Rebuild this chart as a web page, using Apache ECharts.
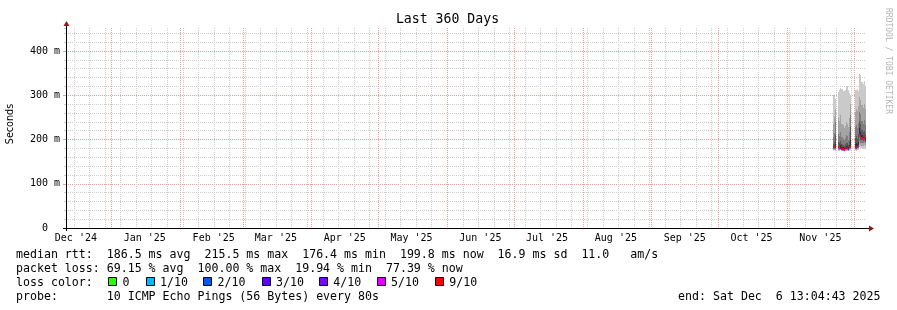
<!DOCTYPE html>
<html><head><meta charset="utf-8">
<script src="https://cdn.jsdelivr.net/npm/echarts@6/dist/echarts.min.js"></script>
<style>html,body{margin:0;padding:0;background:#fff}#c{width:897px;height:310px}</style>
</head><body><div id="c"></div>
<script>
// ---------------- data ----------------
const slotTimes = ['2025-11-21T12:00:00Z','2025-11-22T00:00:00Z','2025-11-22T12:00:00Z','2025-11-23T00:00:00Z','2025-11-23T12:00:00Z',
  '2025-11-24T00:00:00Z','2025-11-24T12:00:00Z','2025-11-25T00:00:00Z','2025-11-25T12:00:00Z','2025-11-26T00:00:00Z',
  '2025-11-26T12:00:00Z','2025-11-27T00:00:00Z','2025-11-27T12:00:00Z','2025-11-28T00:00:00Z','2025-11-28T12:00:00Z',
  '2025-11-29T00:00:00Z','2025-11-29T12:00:00Z','2025-11-30T00:00:00Z','2025-11-30T12:00:00Z','2025-12-01T00:00:00Z',
  '2025-12-01T12:00:00Z','2025-12-02T00:00:00Z','2025-12-02T12:00:00Z','2025-12-03T00:00:00Z','2025-12-03T12:00:00Z',
  '2025-12-04T00:00:00Z','2025-12-04T12:00:00Z','2025-12-05T00:00:00Z','2025-12-05T12:00:00Z','2025-12-06T00:00:00Z'];
// sorted ping slots (ms), 1 = lowest, 10 = highest
const ping1  = [175,176,175,null,null,175,175,176,174,173,172,174,175,175,174,175,176,null,null,null,176,175,177,177,182,180,180,178,181,179];
const ping2  = [177,177,177,null,null,177,176,177,175,174,173,175,176,176,175,177,178,null,null,null,177,176,178,179,190,186,186,185,188,186];
const ping3  = [178,179,179,null,null,178,177,178,176,175,174,176,177,177,176,178,180,null,null,null,179,178,180,181,197,193,192,191,194,191];
const ping4  = [180,181,181,null,null,180,178,179,177,176,175,178,179,178,176,180,182,null,null,null,180,179,182,183,205,200,198,196,199,195];
const ping5  = [181,182,182,null,null,181,179,180,178,177,176,179,180,179,177,181,183,null,null,null,182,181,183,184,212,205,201,200,203,199];
const ping6  = [184,186,190,null,null,186,184,187,184,183,181,184,186,185,182,187,200,null,null,null,190,192,189,195,226,218,210,206,208,203];
const ping7  = [190,195,210,null,null,194,191,197,190,188,186,189,193,191,187,197,228,null,null,null,204,207,202,212,242,236,222,216,220,212];
const ping8  = [205,215,240,null,null,212,208,216,205,202,198,203,210,207,200,216,255,null,null,null,228,232,226,238,262,258,242,236,244,232];
const ping9  = [235,250,270,null,null,248,242,255,236,232,225,230,240,236,228,248,280,null,null,null,262,270,265,275,295,290,278,272,280,270];
const ping10 = [301,298,292,null,null,308,312,316,314,309,310,313,318,321,311,305,300,null,null,null,313,312,315,310,347,345,330,325,332,320];
const medianRtt = [182,184,183,null,null,182,180,181,179,178,176.4,180,181,180,178,182,184,null,null,null,183,182,184,185,215.5,208,204,201,205,199.8];
const lossCount = [2,9,9,null,null,9,5,3,9,9,5,9,4,9,2,9,9,null,null,null,9,2,9,5,3,9,9,5,9,8];

const yTickValues = [0,100,200,300,400];
const monthLabels = ["Dec '24","Jan '25","Feb '25","Mar '25","Apr '25","May '25","Jun '25","Jul '25","Aug '25","Sep '25","Oct '25","Nov '25"];
const monthLabelDates = ['2024-12-16','2025-01-16','2025-02-16','2025-03-16','2025-04-16','2025-05-16','2025-06-16','2025-07-16','2025-08-16','2025-09-16','2025-10-16','2025-11-16'];
const monthStartDates = ['2025-01-01','2025-02-01','2025-03-01','2025-04-01','2025-05-01','2025-06-01','2025-07-01','2025-08-01','2025-09-01','2025-10-01','2025-11-01','2025-12-01'];
const lossLegendLabels = ['0','1/10','2/10','3/10','4/10','5/10','9/10'];
const lossLegendColors = ['#26ff00','#00b8ff','#0059ff','#5e00ff','#7e00ff','#dd00ff','#ff0000'];
const statLines = [
  'median rtt:  186.5 ms avg  215.5 ms max  176.4 ms min  199.8 ms now  16.9 ms sd  11.0   am/s',
  'packet loss: 69.15 % avg  100.00 % max  19.94 % min  77.39 % now',
  'loss color:',
  'probe:       10 ICMP Echo Pings (56 Bytes) every 80s'
];
const endText = 'end: Sat Dec  6 13:04:43 2025';
const titleText = 'Last 360 Days';

// ---------------- build ----------------
const DAY = 86400000;
const tMin = Date.UTC(2024,11,11,13,4,43);
const tMax = Date.UTC(2025,11,6,13,4,43);
const slotMs = 12*3600000;
const yMax = 452;
const weekTimes = [];
for (let t = Date.UTC(2024,11,15); t < tMax; t += 7*DAY) weekTimes.push(t);
const monthTimes = monthStartDates.map(d => Date.parse(d + 'T00:00:00Z'));
const labelTimes = monthLabelDates.map(d => Date.parse(d + 'T00:00:00Z'));

const pings = [ping1,ping2,ping3,ping4,ping5,ping6,ping7,ping8,ping9,ping10];
const smokeColors = ['#cacaca','#a4a4a4','#7e7e7e','#585858','#323232'];
const smokeRows = [];
slotTimes.forEach((s, i) => {
  if (ping1[i] == null) return;
  const t = Date.parse(s);
  for (let b = 0; b < 5; b++) smokeRows.push([t, pings[b][i], pings[9-b][i], b]);
});
function lossIdx(l){ return l <= 0 ? 0 : (l <= 5 ? Math.ceil(l) : 6); }
const medRows = [];
slotTimes.forEach((s, i) => {
  if (medianRtt[i] == null) return;
  medRows.push([Date.parse(s), medianRtt[i], lossIdx(lossCount[i])]);
});

const MONO = '"DejaVu Sans Mono", monospace';
const FG = '#000';
const gridMinor = '#cdcdcd';
const gridMajor = '#f09a9a';

function vLineSeries(times, color, z) {
  return {
    type: 'custom', z: z, silent: true, clip: false,
    data: times.map(t => [t, 0]), encode: {x: 0, y: 1},
    renderItem: (params, api) => {
      const p = api.coord([api.value(0), 0]);
      const x = Math.round(p[0]) + 0.5;
      const cs = params.coordSys;
      return {type: 'line', shape: {x1: x, y1: cs.y, x2: x, y2: cs.y + cs.height + 2},
        style: {stroke: color, lineWidth: 1, lineDash: [1, 1]}};
    }
  };
}

const graphics = [];
graphics.push({type:'text', x:447.5, y:20, style:{text:titleText, font:'13.2px '+MONO, fill:FG, align:'center', verticalAlign:'middle'}});
graphics.push({type:'text', x:10.5, y:124, rotation:Math.PI/2, style:{text:'Seconds', font:'9.6px "DejaVu Sans", sans-serif', fill:FG, align:'center', verticalAlign:'middle'}});
graphics.push({type:'text', x:888, y:61, rotation:-Math.PI/2, style:{text:'RRDTOOL / TOBI OETIKER', font:'8px '+MONO, fill:'#b4b4b4', align:'center', verticalAlign:'middle'}});
const lineY = [254.8, 268.8, 282.6, 296.6];
statLines.forEach((s, i) => graphics.push({type:'text', x:16, y:lineY[i], style:{text:s, font:'11.6px '+MONO, fill:FG, align:'left', verticalAlign:'middle'}}));
graphics.push({type:'text', x:880.5, y:lineY[3], style:{text:endText, font:'11.6px '+MONO, fill:FG, align:'right', verticalAlign:'middle'}});
const boxX = [108.3, 145.7, 203.3, 261.7, 319, 376.7, 435];
lossLegendLabels.forEach((lab, i) => {
  graphics.push({type:'rect', shape:{x:Math.round(boxX[i])+0.5, y:277.5, width:8, height:8}, style:{fill:lossLegendColors[i], stroke:'#000', lineWidth:1}});
  graphics.push({type:'text', x:boxX[i]+14.3, y:lineY[2], style:{text:lab, font:'11.6px '+MONO, fill:FG, align:'left', verticalAlign:'middle'}});
});
graphics.push({type:'line', shape:{x1:63, y1:228.5, x2:869, y2:228.5}, style:{stroke:'#000', lineWidth:1}, z:100});
graphics.push({type:'line', shape:{x1:66.5, y1:231, x2:66.5, y2:25}, style:{stroke:'#000', lineWidth:1}, z:100});
graphics.push({type:'polygon', shape:{points:[[63.5,26],[69.5,26],[66.5,21]]}, style:{fill:'#8b1a1a'}, z:101});
graphics.push({type:'polygon', shape:{points:[[869,225.5],[869,231.5],[874,228.5]]}, style:{fill:'#8b1a1a'}, z:101});

const option = {
  animation: false,
  backgroundColor: '#fff',
  grid: {left: 66, top: 28, width: 800, height: 200, containLabel: false, outerBoundsMode: 'none'},
  xAxis: [{
    type: 'value', min: tMin, max: tMax, position: 'bottom',
    axisLine: {show: false},
    axisTick: {show: false},
    axisLabel: {show: true, customValues: labelTimes, margin: 5, fontFamily: MONO, fontSize: 10, color: FG,
      formatter: (v) => { let best = 0; labelTimes.forEach((t, i) => { if (Math.abs(t - v) < Math.abs(labelTimes[best] - v)) best = i; }); return monthLabels[best]; }},
    splitLine: {show: false}
  }],
  yAxis: [{
    type: 'value', min: 0, max: yMax, interval: 100, position: 'left', z: 1,
    axisLine: {show: false},
    axisTick: {show: true, length: 3, lineStyle: {color: gridMajor}},
    axisLabel: {show: true, showMaxLabel: false, margin: 6, fontFamily: MONO, fontSize: 10, color: FG,
      formatter: (v) => yTickValues.indexOf(v) < 0 ? '' : (v === 0 ? '0  ' : v + ' m')},
    splitLine: {show: true, showMaxLine: false, showMinLine: false, lineStyle: {color: gridMajor, width: 1, type: [1, 1]}}
  }, {
    type: 'value', min: 0, max: yMax, interval: 20, position: 'left', z: 0,
    axisLine: {show: false}, axisLabel: {show: false},
    axisTick: {show: true, length: 2, lineStyle: {color: gridMinor}},
    splitLine: {show: true, showMaxLine: false, showMinLine: false, lineStyle: {color: gridMinor, width: 1, type: [1, 1]}}
  }],
  series: [
    vLineSeries(weekTimes, gridMinor, 1),
    vLineSeries(monthTimes, gridMajor, 1),
    {
      type: 'custom', z: 3, silent: true,
      data: smokeRows, encode: {x: 0, y: [1, 2]},
      renderItem: (params, api) => {
        const t = api.value(0);
        const a = api.coord([t, api.value(2)]);
        const c = api.coord([t + slotMs, api.value(1)]);
        const x0 = Math.round(a[0]), x1 = Math.round(c[0]);
        const y0 = Math.round(a[1]), y1 = Math.round(c[1]);
        return {type: 'rect', shape: {x: x0, y: y0, width: Math.max(1, x1 - x0), height: Math.max(1, y1 - y0)},
          style: {fill: smokeColors[api.value(3)]}};
      }
    },
    {
      type: 'custom', z: 4, silent: true,
      data: medRows, encode: {x: 0, y: 1},
      renderItem: (params, api) => {
        const t = api.value(0);
        const a = api.coord([t, api.value(1)]);
        const c = api.coord([t + slotMs, api.value(1)]);
        const x0 = Math.round(a[0]), x1 = Math.round(c[0]);
        const yc = Math.round(a[1]);
        return {type: 'rect', shape: {x: x0, y: yc - 1, width: Math.max(1, x1 - x0), height: 2},
          style: {fill: lossLegendColors[api.value(2)]}};
      }
    }
  ],
  graphic: graphics
};
const chart = echarts.init(document.getElementById('c'), null, {renderer: 'canvas'});
chart.setOption(option);
</script>
</body></html>
